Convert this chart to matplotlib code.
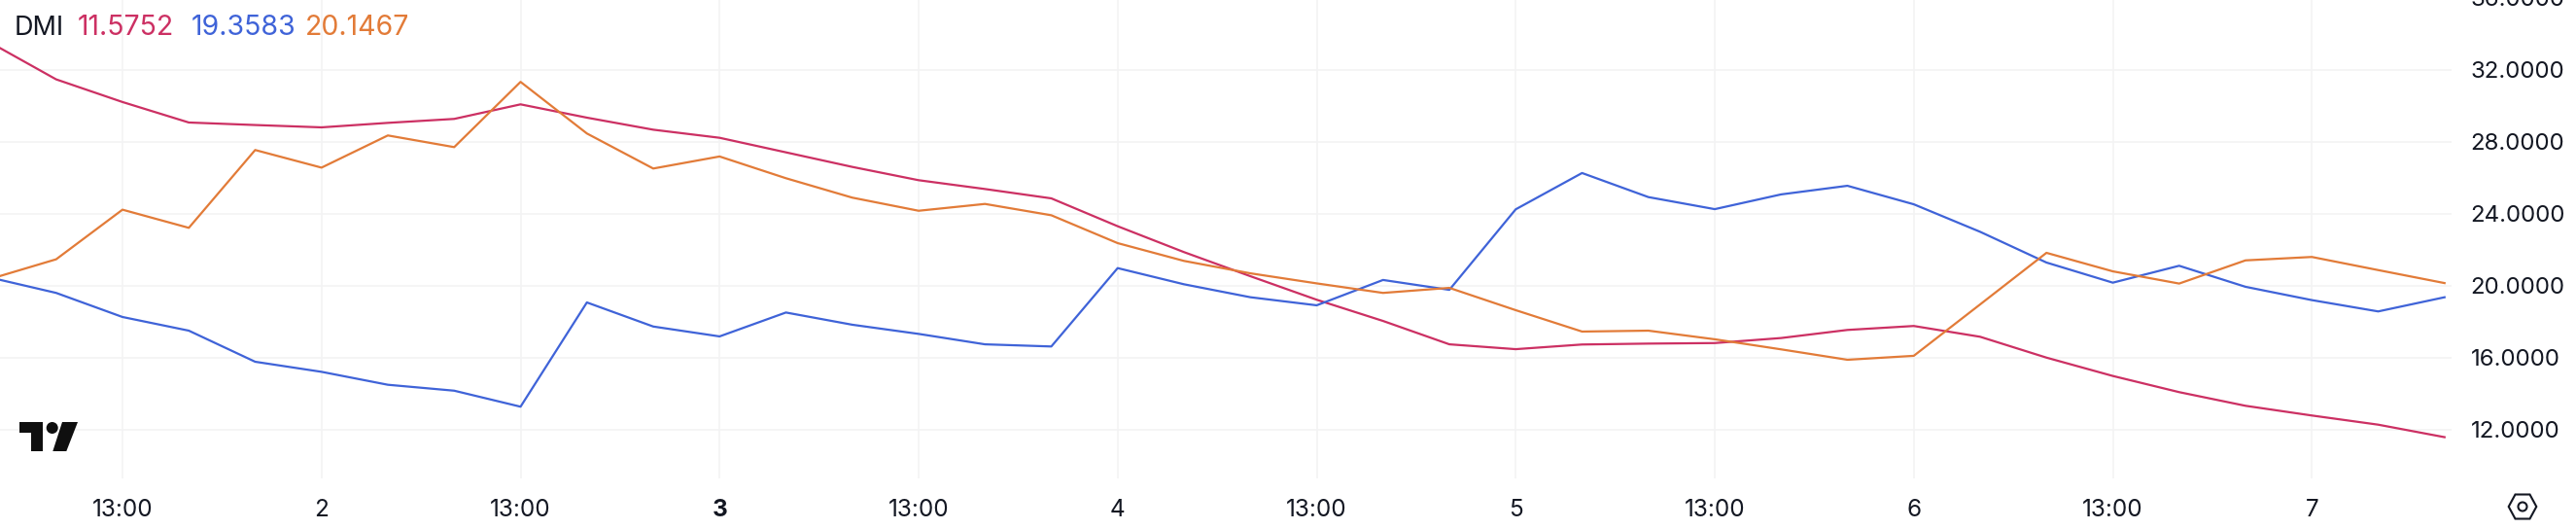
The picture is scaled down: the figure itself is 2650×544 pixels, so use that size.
import matplotlib
matplotlib.use("Agg")
import matplotlib.pyplot as plt
from matplotlib.patches import Polygon, Circle
from matplotlib.transforms import Affine2D, ScaledTranslation

plt.rcParams['font.family'] = ['Inter', 'DejaVu Sans']

# Candle index: 0 is the first "13:00" gridline, the series start two candles before it
start_index = -2
adx = [33.54, 31.48, 30.22, 29.08, 28.94, 28.81, 29.06, 29.28, 30.09, 29.35, 28.68, 28.23,
       27.42, 26.61, 25.87, 25.38, 24.86, 23.31, 21.87, 20.53, 19.22, 18.04, 16.74, 16.47,
       16.73, 16.78, 16.81, 17.09, 17.54, 17.76, 17.16, 16.00, 14.98, 14.08, 13.32, 12.78,
       12.27, 11.5752]
di_plus = [20.46, 19.60, 18.26, 17.50, 15.77, 15.21, 14.49, 14.16, 13.27, 19.07, 17.73, 17.18,
           18.51, 17.83, 17.32, 16.74, 16.62, 20.98, 20.08, 19.36, 18.91, 20.32, 19.77, 24.25,
           26.27, 24.93, 24.26, 25.08, 25.56, 24.53, 23.00, 21.29, 20.17, 21.11, 19.94, 19.20,
           18.57, 19.3583]
di_minus = [20.37, 21.47, 24.23, 23.22, 27.55, 26.57, 28.36, 27.71, 31.34, 28.47, 26.52, 27.19,
            25.98, 24.90, 24.17, 24.55, 23.92, 22.37, 21.38, 20.69, 20.13, 19.60, 19.88, 18.64,
            17.45, 17.50, 17.02, 16.46, 15.88, 16.10, 18.96, 21.83, 20.80, 20.12, 21.41, 21.60,
            20.87, 20.1467]
x_ticks = [0, 3, 6, 9, 12, 15, 18, 21, 24, 27, 30, 33]
x_labels = ["13:00", "2", "13:00", "3", "13:00", "4", "13:00", "5", "13:00", "6", "13:00", "7"]
y_ticks = [12, 16, 20, 24, 28, 32]
y_top_label = 36
legend_name = "DMI"
legend_values = ["11.5752", "19.3583", "20.1467"]

RED, BLUE, ORANGE = "#CC3063", "#3F63D8", "#E27B38"
INK = "#131722"
GRID = "#F3F3F4"
W, H = 2650, 544

fig = plt.figure(figsize=(W / 100, H / 100), dpi=100, facecolor="white")
ax = fig.add_axes([0, (H - 491.7) / H, 2522 / W, 491.7 / H])
xs = [start_index + i for i in range(len(adx))]
ax.set_xlim(-126 / 68.25, (2522 - 126) / 68.25)
ax.set_ylim(12 - 50 / 18.485, 12 + 441.7 / 18.485)
for s in ax.spines.values():
    s.set_visible(False)
ax.set_axisbelow(True)
ax.grid(True, color=GRID, lw=1.2)

ax.plot(xs, adx, color=RED, lw=1.6, solid_joinstyle="round")
ax.plot(xs, di_plus, color=BLUE, lw=1.6, solid_joinstyle="round")
ax.plot(xs, di_minus, color=ORANGE, lw=1.6, solid_joinstyle="round")

ax.set_xticks(x_ticks)
ax.set_xticklabels(x_labels, fontsize=17.5, color=INK)
ax.get_xticklabels()[3].set_fontweight("bold")
ax.tick_params(axis="x", length=0, pad=15.5)
ax.yaxis.tick_right()
ax.set_yticks(y_ticks)
ax.set_yticklabels([f"{v:.4f}" for v in y_ticks], fontsize=17.3, color=INK, va="center")
ax.tick_params(axis="y", length=0, pad=14)
down = ScaledTranslation(0, -2 / 100, fig.dpi_scale_trans)
for lab in ax.get_yticklabels():
    lab.set_transform(lab.get_transform() + down)
ax.text(1.0 + 19.7 / 2522, y_top_label, f"{y_top_label:.4f}",
        transform=ax.get_yaxis_transform() + down,
        fontsize=17.3, color=INK, va="center", ha="left", clip_on=False)

# Pixel-space helper for the header and the TradingView furniture
px = Affine2D().scale(1, -1).translate(0, H)
fig.text(15, 29, legend_name, transform=px, fontsize=19.5, color=INK, va="center", ha="left")
for left, val, col in zip([80, 197, 314], legend_values, [RED, BLUE, ORANGE]):
    fig.text(left, 29, val, transform=px, fontsize=20.5, color=col, va="center", ha="left")

LOGO = "#0F0F0F"
fig.add_artist(Polygon([(20, 434), (44.3, 434), (44.3, 464), (32.3, 464), (32.3, 445.3), (20, 445.3)],
                       closed=True, fc=LOGO, ec="none", transform=px))
fig.add_artist(Circle((53.7, 440), 6, fc=LOGO, ec="none", transform=px))
fig.add_artist(Polygon([(80, 434), (68.3, 464), (54.3, 464), (64, 434)],
                       closed=True, fc=LOGO, ec="none", transform=px))
fig.add_artist(Polygon([(2580.7, 521), (2587.5, 508.5), (2602.5, 508.5), (2609.3, 521),
                        (2602.5, 533.5), (2587.5, 533.5)],
                       closed=True, fc="none", ec=INK, lw=1.5, transform=px))
fig.add_artist(Circle((2595, 521), 4.5, fc="none", ec=INK, lw=1.5, transform=px))

fig.savefig("out.png", dpi=100, facecolor="white")
